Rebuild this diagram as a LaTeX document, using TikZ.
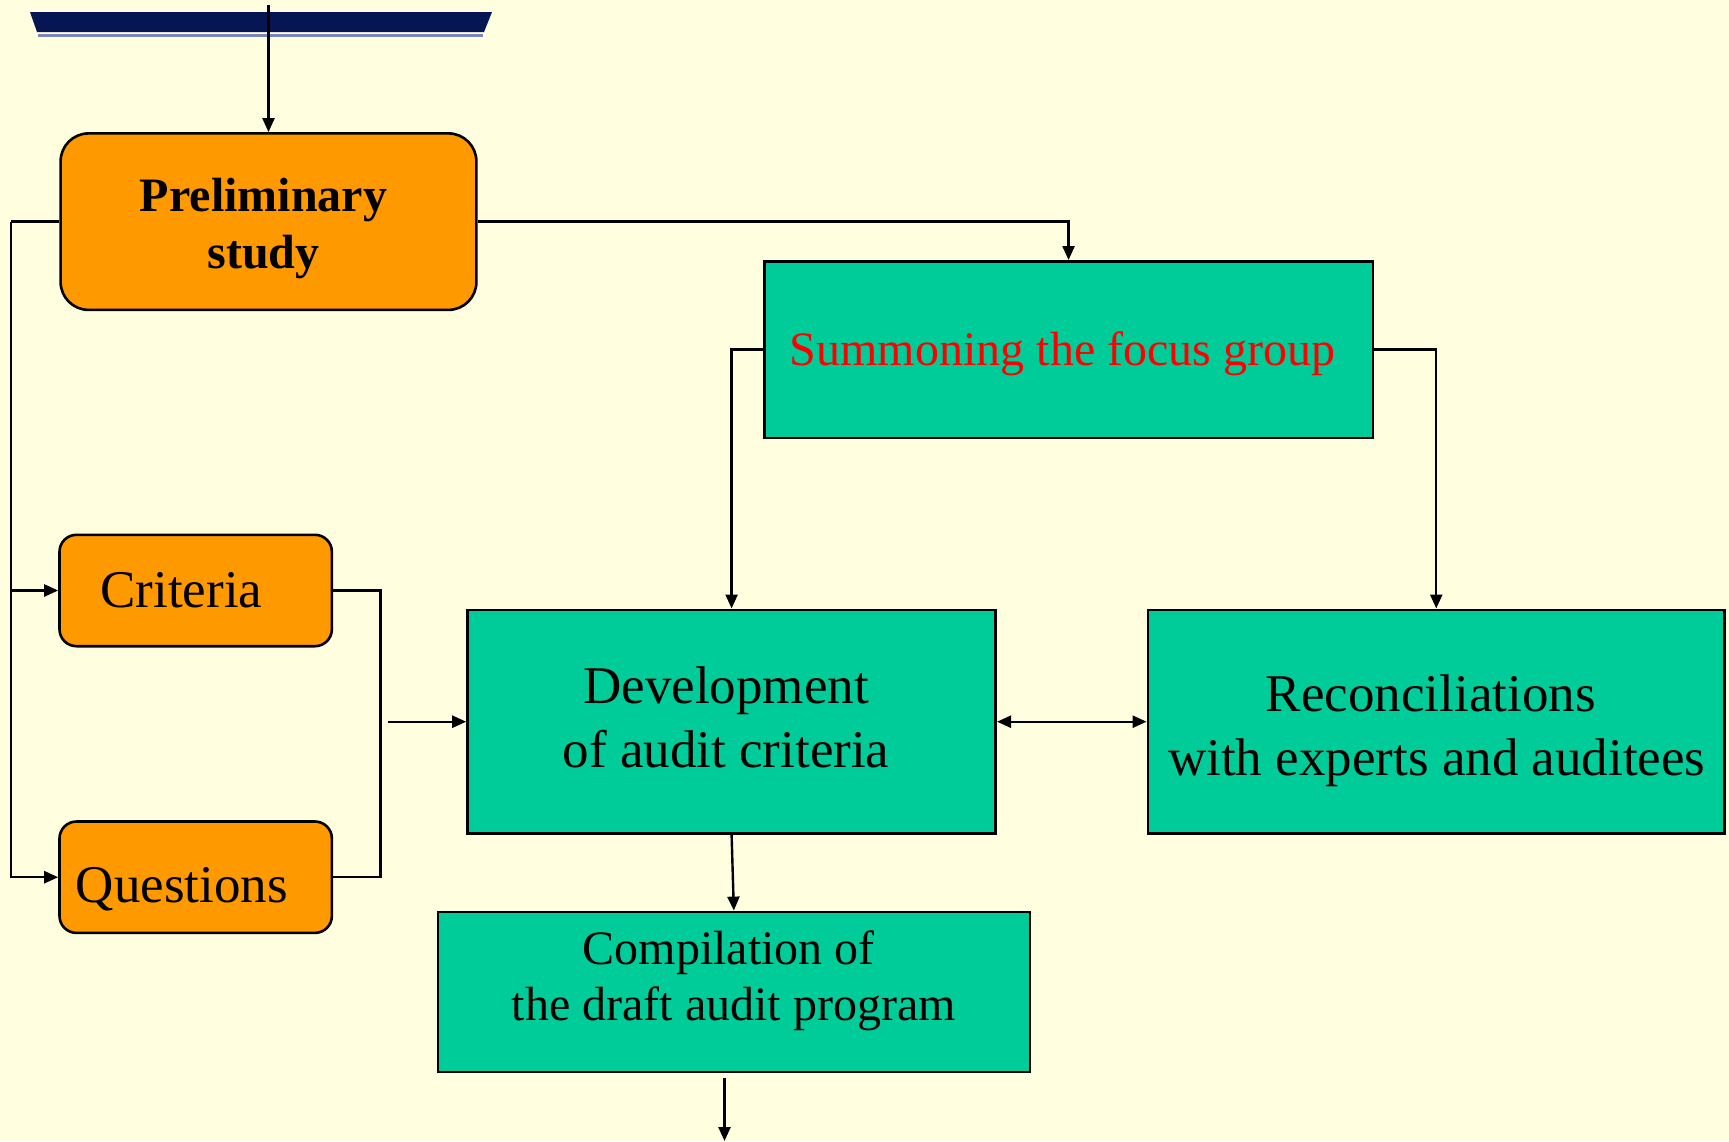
\documentclass[tikz,border=0pt]{standalone}
\usepackage{fontspec}
\setmainfont{Liberation Serif}
\usetikzlibrary{arrows.meta}
\definecolor{bg}{RGB}{255,255,224}
\definecolor{boxorange}{RGB}{255,153,0}
\definecolor{boxgreen}{RGB}{0,204,153}
\definecolor{navy}{RGB}{6,22,85}
\definecolor{steel}{RGB}{125,135,180}
\begin{document}
\begin{tikzpicture}[x=1pt,y=-1pt,
  wire/.style={line width=2.4pt},
  conn/.style={wire, -{Triangle[length=14pt,width=12pt]}},
  biconn/.style={wire, {Triangle[length=14pt,width=12pt]}-{Triangle[length=14pt,width=12pt]}},
  orangebox/.style={draw, line width=2.6pt, fill=boxorange, rounded corners=#1, inner sep=0pt},
  greenbox/.style={draw, line width=2.6pt, fill=boxgreen, inner sep=0pt},
  bigtext/.style={font=\fontsize{53}{64}\selectfont, anchor=base, inner sep=0pt},
  midtext/.style={font=\fontsize{48}{57}\selectfont, anchor=base, inner sep=0pt},
  boldtext/.style={font=\fontsize{48}{57}\selectfont\bfseries, anchor=base, inner sep=0pt},
]
% page
\fill[bg] (0,0) rectangle (1729,1141);
\useasboundingbox (0,0) rectangle (1729,1141);

% header bar
\fill[navy] (30,12) -- (492,12) -- (484,32) -- (37,32) -- cycle;
\draw[steel, line width=3pt] (38,35.5) -- (483,35.5);

% boxes
\node[orangebox=28pt, minimum width=415.8pt, minimum height=176.5pt] (prelim) at (268.5,221.65) {};
\node[orangebox=17pt, minimum width=272.4pt, minimum height=111.4pt] (crit) at (195.7,590.5) {};
\node[orangebox=17pt, minimum width=272.4pt, minimum height=111.4pt] (ques) at (195.7,877.2) {};
\node[greenbox, minimum width=608.7pt, minimum height=176.5pt] (summ) at (1068.55,349.55) {};
\node[greenbox, minimum width=528.2pt, minimum height=223.8pt] (dev) at (731.6,721.7) {};
\node[greenbox, minimum width=576.7pt, minimum height=223.8pt] (recon) at (1436.25,721.7) {};
\node[greenbox, minimum width=592.1pt, minimum height=159.9pt] (comp) at (733.85,991.85) {};

% texts
\node[boldtext] (prelimA) at (263.5,211.7) {Preliminary};
\node[boldtext] (prelimB) at (263.5,268) {study};
\node[midtext, text=red] (summA) at (1062.6,365) {Summoning the focus group};
\node[bigtext] (critA) at (181.4,607.6) {Criteria};
\node[bigtext] (quesA) at (181.9,902) {Questions};
\node[bigtext] (devA) at (726.1,703.5) {Development};
\node[bigtext] (devB) at (726.1,767.5) {of audit criteria};
\node[bigtext] (reconA) at (1430.8,711.2) {Reconciliations};
\node[bigtext] (reconB) at (1436.8,775.2) {with experts and auditees};
\node[midtext] (compA) at (728.9,964.9) {Compilation of};
\node[midtext] (compB) at (733.8,1020) {the draft audit program};

% free ends
\coordinate (topin) at (268.5,5);
\coordinate (trunk) at (11,221.65);
\coordinate (feed) at (388,721.7);
\coordinate (outA) at (724.5,1078);
\coordinate (outB) at (724.5,1141);

% connectors
\draw[conn] (topin) -- (prelim.north);
\draw[conn] (prelim.east) -| (summ.north);
\draw[wire] (prelim.west) -- (trunk);
\draw[conn] (trunk) |- (crit.west);
\draw[conn] (trunk) |- (ques.west);
\draw[wire] (crit.east) -- ++(47.4,0) |- (ques.east);
\draw[conn] (feed) -- (dev.west);
\draw[conn] (summ.west) -| (dev.north);
\draw[conn] (summ.east) -| (recon.north);
\draw[biconn] (dev.east) -- (recon.west);
\draw[conn] (dev.south) -- (comp.north);
\draw[conn] (outA) -- (outB);
\end{tikzpicture}
\end{document}
